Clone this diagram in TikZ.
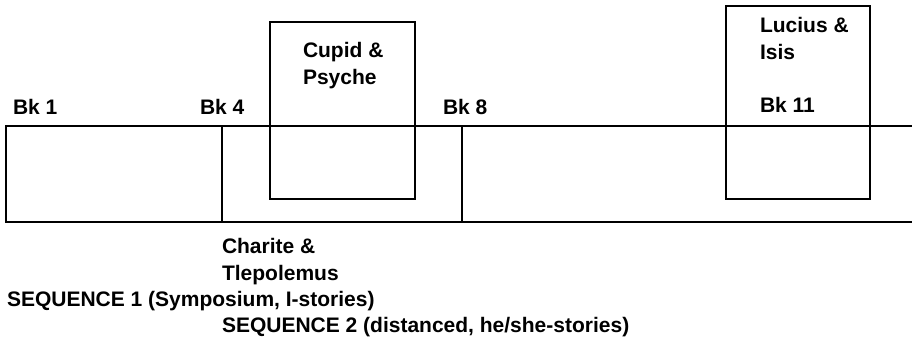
\documentclass[tikz,border=0pt]{standalone}
\usepackage{fontspec}
\setmainfont{Liberation Sans}
\begin{document}
\begin{tikzpicture}[x=1pt,y=-1pt,
  lbl/.style={anchor=base west,inner sep=0pt,outer sep=0pt,
    font=\bfseries\fontsize{21}{27}\selectfont},
  edge/.style={line width=2.6pt,draw=black}]
\useasboundingbox (0,0) rectangle (912,342);
% main band
\coordinate (tl) at (6,126);
\coordinate (bl) at (6,222);
\coordinate (tr) at (914,126);
\coordinate (br) at (914,222);
\coordinate (v4t) at (222,126);
\coordinate (v4b) at (222,222);
\coordinate (v8t) at (462,126);
\coordinate (v8b) at (462,222);
\draw[edge] (tr) -- (tl) -- (bl) -- (br);
\draw[edge] (v4t) -- (v4b);
\draw[edge] (v8t) -- (v8b);
% boxes
\coordinate (cpA) at (270,22);
\coordinate (cpB) at (415,199);
\coordinate (liA) at (726,6);
\coordinate (liB) at (870,199);
\draw[edge] (cpA) rectangle (cpB);
\draw[edge] (liA) rectangle (liB);
% labels
\node[lbl] (bk1) at (13,114) {Bk 1};
\node[lbl] (bk4) at (200,114) {Bk 4};
\node[lbl] (bk8) at (443,114) {Bk 8};
\node[lbl] (bk11) at (760,113) {Bk 11};
\node[lbl] (cupid) at (303,58) {Cupid \&};
\node[lbl] (psyche) at (303,85) {Psyche};
\node[lbl] (lucius) at (760,33) {Lucius \&};
\node[lbl] (isis) at (760,60) {Isis};
\node[lbl] (charite) at (222,253) {Charite \&};
\node[lbl] (tlep) at (222,280) {Tlepolemus};
\node[lbl] (seq1) at (7,306) {SEQUENCE 1 (Symposium, I-stories)};
\node[lbl] (seq2) at (222,332) {SEQUENCE 2 (distanced, he/she-stories)};
\end{tikzpicture}
\end{document}
